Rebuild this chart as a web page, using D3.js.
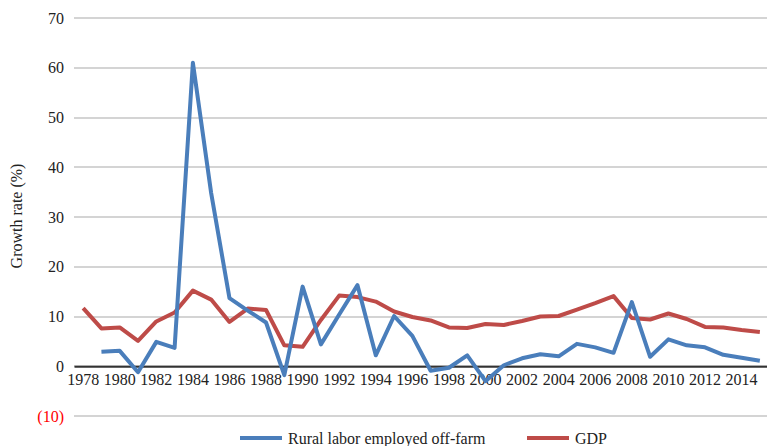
<!DOCTYPE html>
<html>
<head>
<meta charset="utf-8">
<script src="https://cdn.jsdelivr.net/npm/d3@7"></script>
<style>
  body { margin: 0; background: #fff; }
  svg { display: block; }
  svg text { font-family: "Liberation Serif", "DejaVu Serif", serif; }
</style>
</head>
<body>
<svg id="chart" width="767" height="446"></svg>
<script>
// years on the category axis
var years = d3.range(1978, 2016);

// growth of rural labor employed off-farm (%), no value for 1978
var ruralLabor = [null, 2.9, 3.1, -1.2, 4.9, 3.7, 61.0, 34.8, 13.7, 11.2, 8.8, -1.8,
  16.0, 4.4, 10.4, 16.3, 2.2, 10.1, 6.1, -0.9, -0.3, 2.2, -3.0, 0.2,
  1.6, 2.4, 2.0, 4.5, 3.8, 2.7, 12.9, 1.9, 5.4, 4.2, 3.8, 2.3, 1.7, 1.1];

// real GDP growth (%)
var gdp = [11.7, 7.6, 7.8, 5.1, 9.0, 10.8, 15.2, 13.4, 8.9, 11.6, 11.3, 4.2,
  3.9, 9.3, 14.2, 13.9, 13.0, 11.0, 9.9, 9.2, 7.8, 7.7, 8.5, 8.3,
  9.1, 10.0, 10.1, 11.4, 12.7, 14.1, 9.7, 9.4, 10.6, 9.5, 7.9, 7.8, 7.3, 6.9];

var yTicks = [-10, 0, 10, 20, 30, 40, 50, 60, 70];

var svg = d3.select('#chart');
var plotLeft = 74, plotRight = 769, plotTop = 18, plotBottom = 416;
var fontSize = 16;

var x = d3.scaleBand()
  .domain(years)
  .range([plotLeft, plotRight]);

var y = d3.scaleLinear()
  .domain([-10, 70])
  .range([plotBottom, plotTop]);

var cx = function(yr) { return x(yr) + x.bandwidth() / 2; };

// gridlines
svg.append('g')
  .selectAll('line')
  .data(yTicks)
  .enter().append('line')
  .attr('x1', plotLeft)
  .attr('x2', plotRight)
  .attr('y1', function(d) { return Math.round(y(d)); })
  .attr('y2', function(d) { return Math.round(y(d)); })
  .attr('stroke', '#d4d4d4')
  .attr('stroke-width', 2);

// y labels
var yAxis = d3.axisLeft(y)
  .tickValues(yTicks)
  .tickSize(0)
  .tickPadding(10)
  .tickFormat(function(d) { return d < 0 ? '(' + (-d) + ')' : d; });

var gy = svg.append('g')
  .attr('transform', 'translate(' + plotLeft + ',0)')
  .call(yAxis)
  .attr('font-family', null);
gy.select('.domain').remove();
gy.selectAll('.tick text')
  .attr('font-size', fontSize)
  .attr('fill', function(d) { return d < 0 ? '#ff0000' : '#222'; });

// zero line and x labels
var xAxis = d3.axisBottom(x)
  .tickValues(years.filter(function(d) { return d % 2 === 0; }))
  .tickSize(0)
  .tickPadding(7);

var gx = svg.append('g')
  .attr('transform', 'translate(0,' + y(0) + ')')
  .call(xAxis)
  .attr('font-family', null);
gx.select('.domain')
  .attr('stroke', '#333')
  .attr('stroke-width', 2);
gx.selectAll('.tick text')
  .attr('font-size', fontSize)
  .attr('fill', '#222');

// series
var series = [
  { name: 'Rural labor employed off-farm', values: ruralLabor, color: '#4a7ebb' },
  { name: 'GDP', values: gdp, color: '#be4b48' }
];

var line = d3.line()
  .defined(function(d) { return d.v !== null; })
  .x(function(d) { return cx(d.year); })
  .y(function(d) { return y(d.v); });

// GDP drawn first, rural labor on top where they cross
svg.selectAll('path.series')
  .data(series.slice().reverse())
  .enter().append('path')
  .attr('class', 'series')
  .attr('fill', 'none')
  .attr('stroke', function(d) { return d.color; })
  .attr('stroke-width', 4)
  .attr('stroke-linejoin', 'round')
  .attr('d', function(s) {
    return line(s.values.map(function(v, i) { return { year: years[i], v: v }; }));
  });

// y axis title
svg.append('text')
  .attr('transform', 'translate(22,216) rotate(-90)')
  .attr('text-anchor', 'middle')
  .attr('font-size', fontSize)
  .attr('fill', '#222')
  .text('Growth rate (%)');

// legend
var legendX = [240, 527];
var leg = svg.selectAll('g.legend')
  .data(series)
  .enter().append('g')
  .attr('class', 'legend')
  .attr('transform', function(d, i) { return 'translate(' + legendX[i] + ',438)'; });
leg.append('line')
  .attr('x1', 0).attr('x2', 42)
  .attr('stroke', function(d) { return d.color; })
  .attr('stroke-width', 4);
leg.append('text')
  .attr('x', 48)
  .attr('dy', '0.35em')
  .attr('font-size', fontSize)
  .attr('fill', '#222')
  .text(function(d) { return d.name; });
</script>
</body>
</html>
